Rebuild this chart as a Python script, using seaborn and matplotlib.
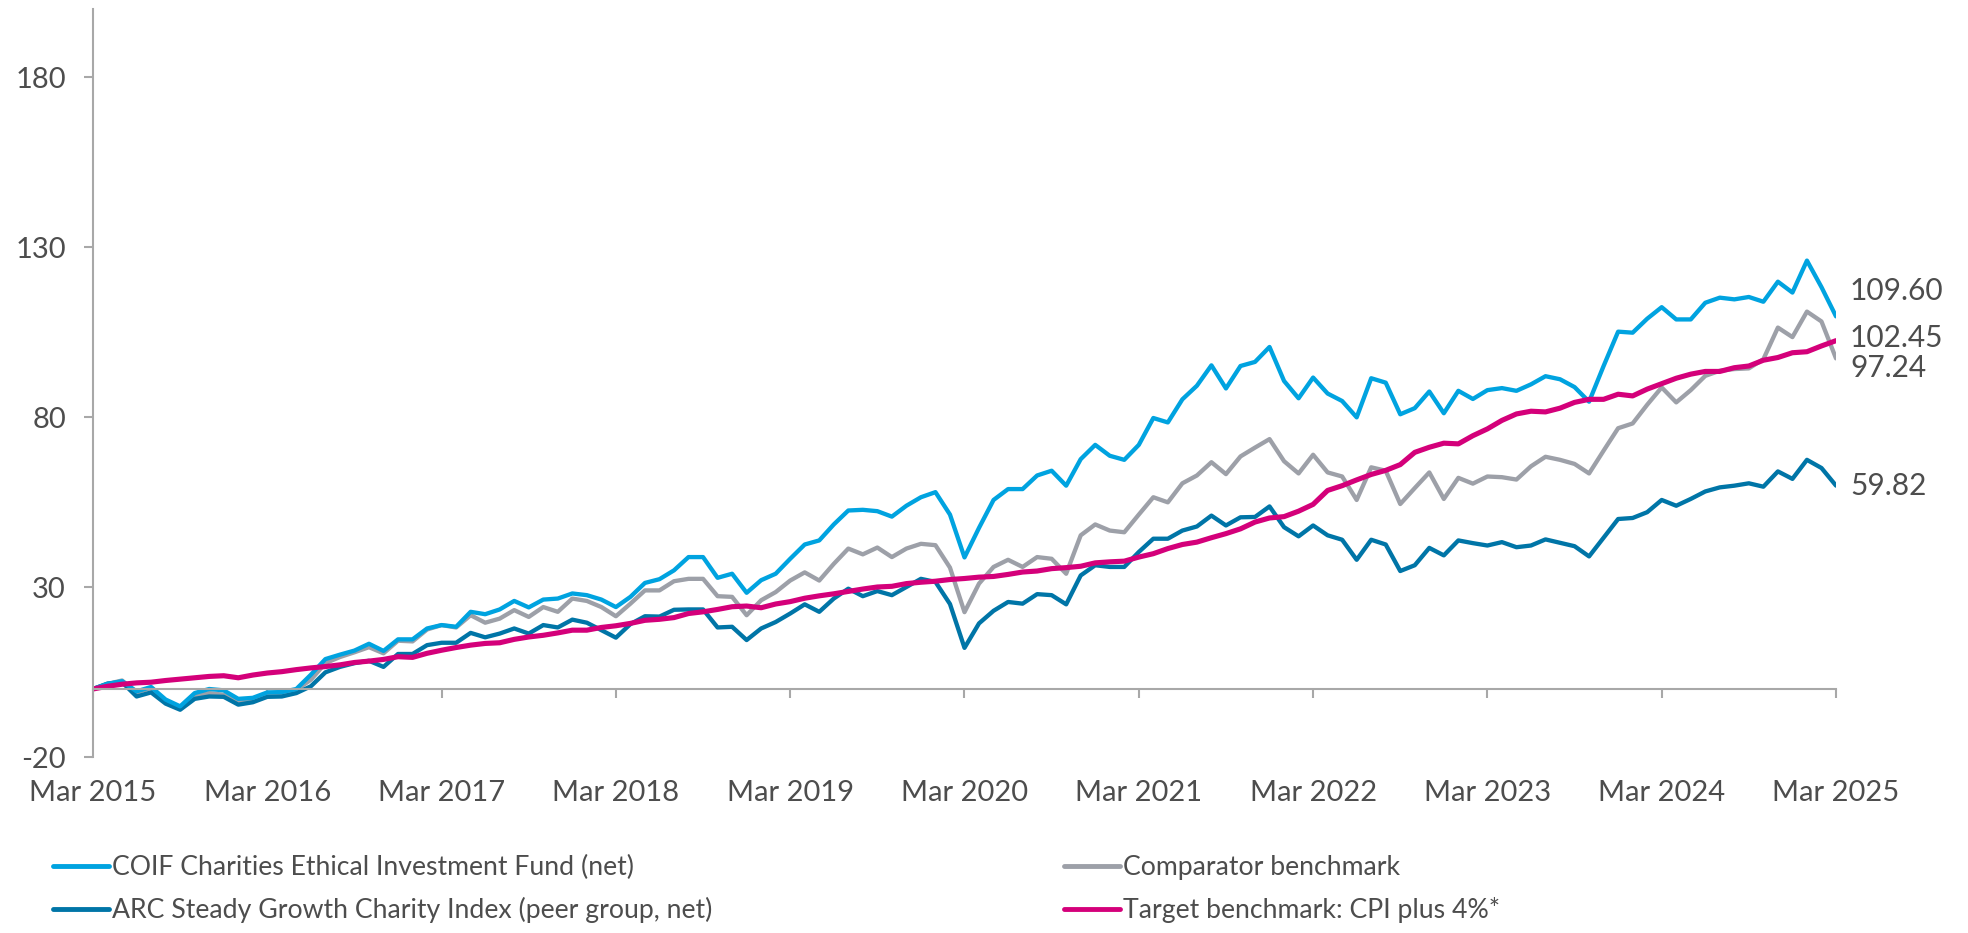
import matplotlib
matplotlib.use('Agg')
import numpy as np
import pandas as pd
import matplotlib.pyplot as plt
import seaborn as sns

sns.set_theme(style="white")
plt.rcParams['font.family'] = ['Lato', 'DejaVu Sans']
plt.rcParams['axes.unicode_minus'] = False

# monthly cumulative returns (%), Mar 2015 .. Mar 2025
coif = [0, 1.5, 2.3, -0.7, 0.6, -3.1, -5.1, -1.2, 0, -0.4, -2.9, -2.6, -1, -0.9, 0, 4.2, 8.8,
        10.1, 11.3, 13.3, 11.2, 14.6, 14.6, 17.8, 18.8, 18.3, 22.7, 22, 23.4, 25.9, 24, 26.3,
        26.6, 28.1, 27.6, 26.3, 24.1, 27.1, 31.2, 32.3, 34.9, 38.8, 38.8, 32.7, 33.9, 28.3, 32,
        33.9, 38.3, 42.5, 43.7, 48.4, 52.5, 52.7, 52.3, 50.7, 53.9, 56.4, 57.9, 51.3, 38.7, 47.4,
        55.6, 58.8, 58.8, 62.8, 64.2, 59.8, 67.6, 71.8, 68.6, 67.4, 71.8, 79.7, 78.4, 85.2, 89.2,
        95.2, 88.4, 95, 96.2, 100.6, 90.6, 85.5, 91.6, 86.9, 84.7, 79.9, 91.4, 90.1, 80.8, 82.6,
        87.5, 81.1, 87.7, 85.3, 87.9, 88.5, 87.7, 89.6, 92, 91.1, 88.8, 84.5, 95, 105.1, 104.8,
        108.9, 112.3, 108.7, 108.7, 113.6, 115.1, 114.6, 115.3, 113.9, 119.8, 116.6, 126, 118.2,
        109.60]
arc = [0, 1.6, 2, -2.2, -1, -4.3, -6.1, -2.9, -2.2, -2.3, -4.6, -3.9, -2.3, -2.2, -1.2, 0.8, 4.9,
       6.5, 7.6, 8.3, 6.5, 10.3, 10.3, 12.9, 13.6, 13.6, 16.5, 15.2, 16.3, 17.8, 16.3, 18.8, 18.1,
       20.4, 19.5, 17.3, 15.1, 19.1, 21.4, 21.3, 23.3, 23.4, 23.4, 18.1, 18.3, 14.4, 17.8, 19.7,
       22.2, 24.9, 22.7, 26.6, 29.5, 27.3, 28.8, 27.6, 30, 32.4, 31.5, 25, 12.1, 19.3, 23, 25.6,
       25.1, 27.9, 27.6, 24.9, 33.4, 36.4, 35.9, 35.9, 40.3, 44.2, 44.2, 46.6, 47.8, 51, 48.1,
       50.5, 50.6, 53.7, 47.6, 44.9, 48.1, 45.2, 43.9, 38, 43.9, 42.5, 34.7, 36.4, 41.5, 39.3,
       43.7, 42.9, 42.2, 43.2, 41.7, 42.2, 44, 43, 42, 39, 44.5, 50, 50.3, 52, 55.6, 53.9, 55.9,
       58.1, 59.3, 59.8, 60.5, 59.5, 64, 61.8, 67.4, 65, 59.82]
comparator = [0, 1.5, 2.5, -1, 0.3, -3.6, -5.6, -2, -1.2, -1.7, -3.6, -3.3, -1.7, -1.4, -0.2, 2.7,
              7.6, 9.4, 10.8, 12.3, 10.5, 14.2, 14, 17.5, 18.8, 18.1, 21.7, 19.5, 20.7, 23.2, 21.2,
              24.1, 22.7, 26.6, 25.9, 24.1, 21.4, 25.1, 29, 29, 31.7, 32.4, 32.4, 27.3, 27.1, 21.7,
              26.1, 28.5, 31.9, 34.3, 31.9, 36.8, 41.3, 39.6, 41.6, 38.8, 41.3, 42.7, 42.3, 35.7,
              22.6, 31, 35.9, 38, 35.9, 38.8, 38.3, 33.9, 45.2, 48.4, 46.6, 46.1, 51.3, 56.4, 54.9,
              60.5, 62.8, 66.7, 63.2, 68.4, 71, 73.5, 67, 63.4, 68.9, 63.7, 62.5, 55.6, 65.2, 64.2,
              54.4, 59.1, 63.7, 55.9, 62.1, 60.4, 62.5, 62.3, 61.6, 65.5, 68.3, 67.4, 66.2, 63.4,
              70.1, 76.7, 78.1, 83.6, 88.7, 84.3, 87.9, 92.1, 93.6, 94.1, 94.3, 97, 106.3, 103.5,
              111, 108.1, 97.24]
target = [0, 0.8, 1.4, 1.8, 2, 2.5, 2.9, 3.3, 3.7, 3.9, 3.3, 4.1, 4.7, 5.1, 5.7, 6.2, 6.6, 7.1,
          7.8, 8.2, 8.7, 9.5, 9.3, 10.5, 11.4, 12.2, 12.9, 13.4, 13.6, 14.6, 15.3, 15.8, 16.5,
          17.3, 17.3, 18.1, 18.6, 19.3, 20.2, 20.5, 21, 22.2, 22.7, 23.4, 24.2, 24.4, 23.9, 25,
          25.7, 26.7, 27.4, 28, 28.7, 29.4, 30, 30.2, 31, 31.4, 31.7, 32.2, 32.5, 32.9, 33.1, 33.7,
          34.4, 34.7, 35.4, 35.7, 36.1, 37.1, 37.4, 37.6, 38.8, 39.8, 41.3, 42.5, 43.2, 44.5, 45.7,
          47.1, 49.1, 50.3, 50.7, 52.3, 54.3, 58.4, 59.8, 61.5, 63.1, 64.3, 66, 69.6, 71.1, 72.3,
          72.1, 74.5, 76.5, 79, 80.9, 81.7, 81.5, 82.6, 84.3, 85.2, 85.2, 86.7, 86.2, 88.2, 89.8,
          91.4, 92.6, 93.4, 93.4, 94.5, 95, 96.7, 97.5, 98.9, 99.2, 100.9, 102.45]

tick_labels = ["Mar {}".format(y) for y in range(2015, 2026)]
y_ticks = [-20, 30, 80, 130, 180]

names = ["COIF Charities Ethical Investment Fund (net)",
         "ARC Steady Growth Charity Index (peer group, net)",
         "Comparator benchmark",
         "Target benchmark: CPI plus 4%*"]
colors = ["#00A3E0", "#0075A7", "#9DA0A8", "#D4007A"]
widths = [3.1, 3.1, 3.1, 3.7]
end_labels = ["109.60", "59.82", "97.24", "102.45"]
label_dy = [18, 0, -7, 2]   # points

months = np.arange(len(coif))
df = pd.concat([pd.DataFrame({'month': months, 'value': vals, 'series': nm})
                for nm, vals in zip(names, [coif, arc, comparator, target])])

text_col = "#4d4d4d"
axis_col = "#a8a8a8"

fig = plt.figure(figsize=(19.68, 9.33), dpi=100)
ax = fig.add_axes([93 / 1968, 1 - 757 / 933, 1743 / 1968, 748 / 933])

handles = {}
for i in [2, 1, 0, 3]:
    sns.lineplot(data=df[df.series == names[i]], x='month', y='value', color=colors[i],
                 linewidth=widths[i], sort=False, errorbar=None, legend=False, ax=ax)
    handles[names[i]] = ax.lines[-1]

ax.set_xlim(0, 120)
ax.set_ylim(-20, 200)
ax.set_xticks(range(0, 121, 12))
ax.set_xticklabels(tick_labels)
ax.set_yticks(y_ticks)
ax.set(xlabel="", ylabel="")

sns.despine(ax=ax)
ax.spines['bottom'].set_position(('data', 0))
for s in ['left', 'bottom']:
    ax.spines[s].set_color(axis_col)
    ax.spines[s].set_linewidth(1.5)
ax.tick_params(bottom=True, left=True, colors=axis_col, labelcolor=text_col,
               labelsize=21, length=6.5, width=1.5, direction='out')
ax.tick_params(axis='x', pad=59)
ax.tick_params(axis='y', pad=13)

# end-of-line values
for nm, vals, lab, dy in zip(names, [coif, arc, comparator, target], end_labels, label_dy):
    ax.annotate(lab, xy=(months[-1], vals[-1]), xytext=(10, dy), textcoords='offset points',
                va='center', ha='left', fontsize=21.5, color=text_col, annotation_clip=False)

# legend in two columns
for idx, x0 in [([0, 1], 53), ([2, 3], 1064)]:
    leg = fig.legend(handles=[handles[names[i]] for i in idx], labels=[names[i] for i in idx],
                     loc='upper left', bbox_to_anchor=(x0 / 1968, 1 - 855 / 933),
                     frameon=False, fontsize=19.2, handlelength=2.1, handletextpad=0.1,
                     labelspacing=0.64, borderaxespad=0, borderpad=0)
    for t in leg.get_texts():
        t.set_color(text_col)
    for l in leg.get_lines():
        l.set_linewidth(3.5)

fig.savefig("out.png", dpi=100)
